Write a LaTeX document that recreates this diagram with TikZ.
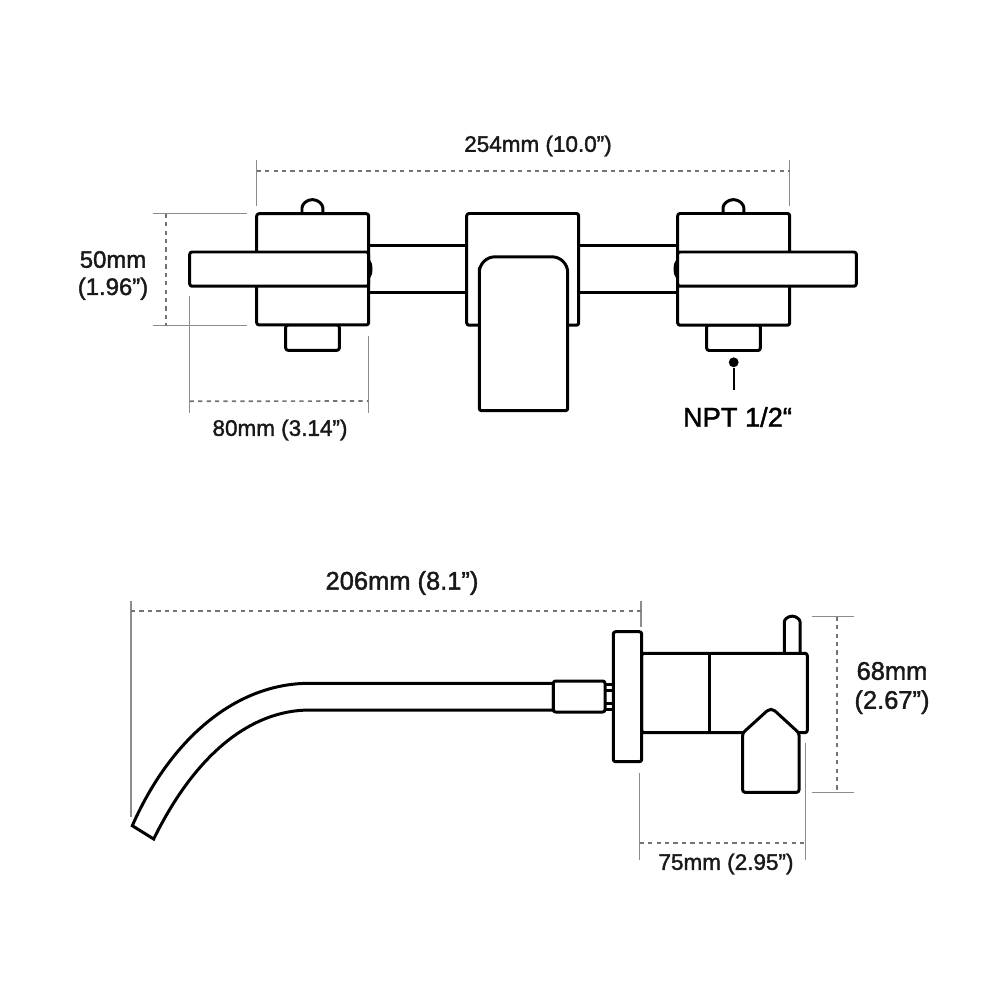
\documentclass[tikz,border=0pt]{standalone}
\usepackage{fontspec}
\setmainfont{Liberation Sans}[UprightFeatures={FakeBold=1.6}]
\usetikzlibrary{positioning,calc}

\tikzset{
  part/.style={draw=black,fill=white,line width=1.7pt,rounded corners=1.3pt,line join=round},
  wire/.style={draw=black,line width=1.7pt},
  extline/.style={draw=black!45,line width=0.85pt},
  dimline/.style={draw=black!55,line width=0.95pt,dash pattern=on 2.4pt off 2.4pt},
  dimlabel/.style={font=\fontsize{12.8}{15.5}\selectfont,align=center,inner sep=0pt,text=black!90},
  bigdim/.style={font=\fontsize{14.5}{16.5}\selectfont,align=center,inner sep=0pt,text=black!90}
}

\begin{document}
\begin{tikzpicture}[x=0.02cm,y=-0.02cm]

  \useasboundingbox (0,0) rectangle (1000,1000);

  % front view: pipes behind everything
  \draw[wire] (368,245.7) -- (678,245.7);
  \draw[wire] (368,292.8) -- (678,292.8);
  \fill (369,258) -- (372,264) -- (372.5,269) -- (372,274) -- (369,280) -- cycle;
  \fill (677,258) -- (674,264) -- (673.5,269) -- (674,274) -- (677,280) -- cycle;

  % left valve
  \draw[part] (302,214) -- (302,210) arc (180:360:10.4) -- (322.8,214);
  \draw[part] (285.7,325) rectangle (339.3,350.3);
  \draw[part] (256.7,213.7) rectangle (368.7,324.9);
  \draw[part] (189.7,252) rectangle (368.7,286.2);

  % centre spout
  \draw[part] (466.7,213.5) rectangle (578.7,325.2);
  \draw[part] (479.3,270) [rounded corners=9pt] -- (479.3,256.8) -- (567.7,256.8) [rounded corners=1.3pt] -- (567.7,410.7) -- (479.3,410.7) -- cycle;

  % right valve
  \draw[part] (723,214) -- (723,210) arc (180:360:10.4) -- (743.8,214);
  \draw[part] (706.7,325) rectangle (760.3,350.5);
  \draw[part] (677.7,213.5) rectangle (789.7,325.2);
  \draw[part] (677.7,252) rectangle (856.3,286.2);

  % side view
  \draw[wire,fill=white] (310,683.3) .. controls (235,683) and (170,740) .. (132.3,825.7)
    -- (153.7,839) .. controls (195,755) and (250,710) .. (310,710) -- (553.3,710) -- (553.3,683.3) -- cycle;
  \draw[wire] (605,684.3) -- (613.3,684.3);
  \draw[wire] (605,690.7) -- (613.3,690.7);
  \draw[wire] (605,703.3) -- (613.3,703.3);
  \draw[wire] (605,709.3) -- (613.3,709.3);
  \draw[part] (553.3,681) rectangle (605,712);
  \draw[part] (784.3,654) -- (784.3,624) arc (180:360:7.85) -- (800,654);
  \draw[part] (641.7,653.3) -- (807.3,653.3) -- (807.3,732.7) -- (799,732.7) -- (742.7,732.7) -- (641.7,732.7) -- cycle;
  \draw[wire] (709.3,653.3) -- (709.3,732.7);
  \draw[part] (613.3,631.7) rectangle (641.7,761.7);
  \draw[part] (742.7,733) [rounded corners=3pt] -- (771,707.3) [rounded corners=1.3pt] -- (799,733) -- (799,792.3) -- (742.7,792.3) -- cycle;

  % extension lines
  \coordinate (e0a) at (256.7,160); \coordinate (e0b) at (256.7,206);
  \coordinate (e1a) at (789.7,160); \coordinate (e1b) at (789.7,206);
  \coordinate (e2a) at (152.7,213.7); \coordinate (e2b) at (246.7,213.7);
  \coordinate (e3a) at (152.7,325.7); \coordinate (e3b) at (246.7,325.7);
  \coordinate (e4a) at (189.7,296); \coordinate (e4b) at (189.7,413);
  \coordinate (e5a) at (368.3,336); \coordinate (e5b) at (368.3,413);
  \coordinate (e6a) at (131,601); \coordinate (e6b) at (131,817);
  \coordinate (e7a) at (641,601); \coordinate (e7b) at (641,626.7);
  \coordinate (e8a) at (811.7,616.7); \coordinate (e8b) at (854.3,616.7);
  \coordinate (e9a) at (811.7,792.3); \coordinate (e9b) at (854.3,792.3);
  \coordinate (e10a) at (639.7,773); \coordinate (e10b) at (639.7,860);
  \coordinate (e11a) at (805.7,743.3); \coordinate (e11b) at (805.7,860);
  \foreach \i in {0,...,11}
    \draw[extline] (e\i a) -- (e\i b);

  % dimension lines
  \draw[dimline] ($(e0a)!0.24!(e0b)$) -- ($(e1a)!0.24!(e1b)$);
  \draw[dimline] ($(e2a)!0.14!(e2b)$) -- ($(e3a)!0.14!(e3b)$);
  \draw[dimline] ($(e4a)!0.90!(e4b)$) -- (368.3,401);
  \draw[dimline] (131,611.3) -- (641,611.3);
  \draw[dimline] ($(e8a)!0.6!(e8b)$) -- ($(e9a)!0.6!(e9b)$);
  \draw[dimline] (639.7,843.3) -- (805.7,843.3);

  % labels
  \node[dimlabel] (w0) at (538,146) {254mm (10.0”)};
  \node[dimlabel,font=\fontsize{13.6}{15.5}\selectfont] (h0) at (113,275.5) {50mm\\(1.96”)};
  \node[dimlabel] (w1) at (280,430) {80mm (3.14”)};
  \node[bigdim] (w2) at (402,583) {206mm (8.1”)};
  \node[bigdim] (h1) at (892,688) {68mm\\(2.67”)};
  \node[dimlabel] (w3) at (726,864) {75mm (2.95”)};

  \node[circle,fill=black,inner sep=0pt,minimum size=5.6pt] (dot) at (733.7,362.3) {};
  \coordinate (npt0) at (733.7,390);
  \draw[black,line width=1.3pt] (dot) -- (npt0);
  \node[font=\fontsize{15.5}{18}\selectfont,inner sep=0pt] (npt) at (737.5,417) {NPT 1/2“};

\end{tikzpicture}
\end{document}
